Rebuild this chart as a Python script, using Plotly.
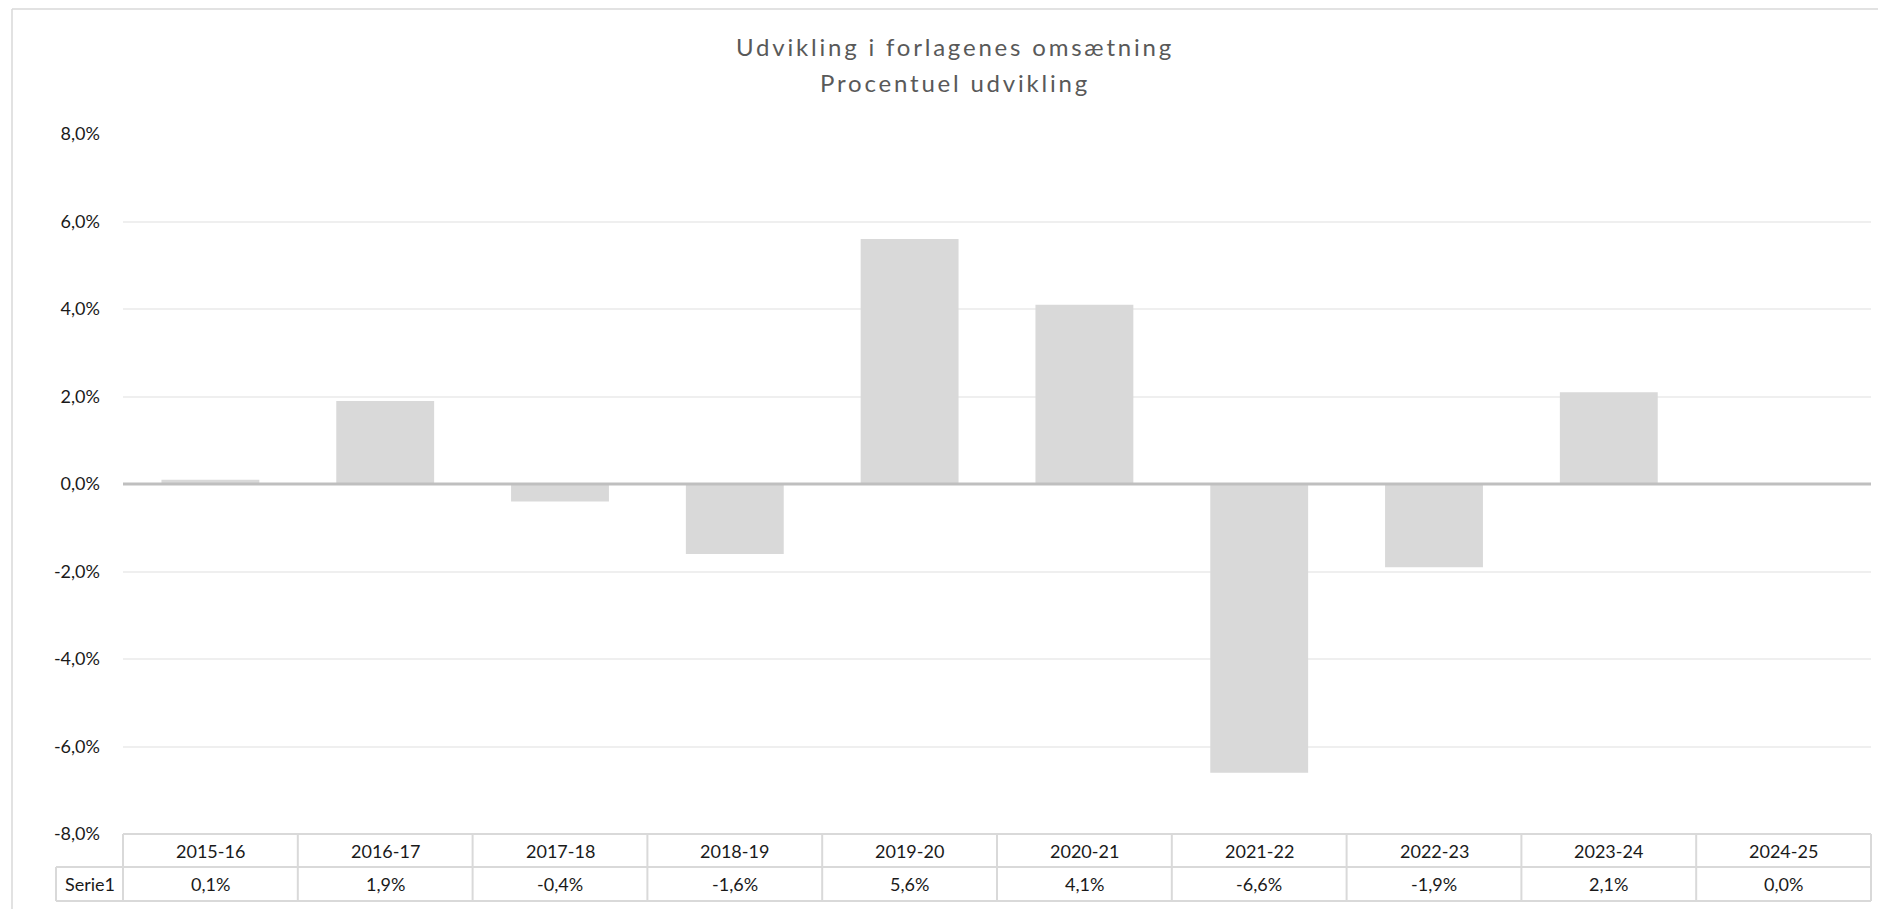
import plotly.graph_objects as go

categories = ["2015-16", "2016-17", "2017-18", "2018-19", "2019-20",
              "2020-21", "2021-22", "2022-23", "2023-24", "2024-25"]
values = [0.1, 1.9, -0.4, -1.6, 5.6, 4.1, -6.6, -1.9, 2.1, 0.0]
series_name = "Serie1"
title_line1 = "Udvikling i forlagenes omsætning"
title_line2 = "Procentuel udvikling"
y_ticks = [-8, -6, -4, -2, 0, 2, 4, 6, 8]


def pct(v):
    return f"{v:.1f}".replace(".", ",") + "%"


y_ticktext = [pct(t) for t in y_ticks]

W, H = 1878, 909
ML, MR, MT, MB = 123, 7, 134, 75
PW, PH = W - ML - MR, H - MT - MB

FONT = "Lato"
TXT = "#1a1a1a"
LINE = "#d9d9d9"


def py(pix):
    """pixel y (from top) -> paper y"""
    return 1 - (pix - MT) / PH


def px(pix):
    return (pix - ML) / PW


fig = go.Figure()
fig.add_trace(go.Bar(
    x=categories, y=values, width=0.56,
    marker=dict(color="#d9d9d9", line=dict(width=0)),
    hoverinfo="x+y", showlegend=False,
))

shapes = []
# zero line
shapes.append(dict(type="line", xref="paper", yref="y", x0=0, x1=1, y0=0, y1=0,
                   line=dict(color="#bfbfbf", width=3), layer="above"))
# outer chart border (top + left visible)
shapes.append(dict(type="line", xref="paper", yref="paper", x0=px(12), x1=px(W + 20),
                   y0=py(9), y1=py(9), line=dict(color=LINE, width=1.5)))
shapes.append(dict(type="line", xref="paper", yref="paper", x0=px(12), x1=px(12),
                   y0=py(9), y1=py(H + 20), line=dict(color=LINE, width=1.5)))

# data table
n = len(categories)
row1_top, row1_bot, row2_bot = py(834), py(867), py(901)
left_cell = px(56)
shapes.append(dict(type="line", xref="paper", yref="paper", x0=0, x1=1,
                   y0=row1_top, y1=row1_top, line=dict(color=LINE, width=2)))
for yy in (row1_bot, row2_bot):
    shapes.append(dict(type="line", xref="paper", yref="paper", x0=left_cell, x1=1,
                       y0=yy, y1=yy, line=dict(color=LINE, width=2)))
for k in range(n + 1):
    xx = k / n
    shapes.append(dict(type="line", xref="paper", yref="paper", x0=xx, x1=xx,
                       y0=row1_top, y1=row2_bot, line=dict(color=LINE, width=2)))
shapes.append(dict(type="line", xref="paper", yref="paper", x0=left_cell, x1=left_cell,
                   y0=row1_bot, y1=row2_bot, line=dict(color=LINE, width=2)))

annotations = []
for c, v in zip(categories, values):
    annotations.append(dict(x=c, xref="x", y=(row1_top + row1_bot) / 2, yref="paper",
                            text=c, showarrow=False, yanchor="middle", xanchor="center",
                            font=dict(family=FONT, size=18, color=TXT)))
    annotations.append(dict(x=c, xref="x", y=(row1_bot + row2_bot) / 2, yref="paper",
                            text=pct(v), showarrow=False,
                            yanchor="middle", xanchor="center",
                            font=dict(family=FONT, size=18, color=TXT)))
annotations.append(dict(x=left_cell / 2, xref="paper", y=(row1_bot + row2_bot) / 2, yref="paper",
                        text=series_name, showarrow=False, yanchor="middle", xanchor="center",
                        font=dict(family=FONT, size=18, color=TXT)))
# titles
SP = '<span style="letter-spacing:2.8px">{}</span>'
annotations.append(dict(x=px(955), xref="paper", y=py(47), yref="paper", text=SP.format(title_line1),
                        showarrow=False, yanchor="middle", xanchor="center",
                        font=dict(family=FONT, size=24, color="#595959")))
annotations.append(dict(x=px(955), xref="paper", y=py(82), yref="paper", text=SP.format(title_line2),
                        showarrow=False, yanchor="middle", xanchor="center",
                        font=dict(family=FONT, size=24, color="#595959")))

fig.update_layout(
    width=W, height=H, autosize=False,
    margin=dict(l=ML, r=MR, t=MT, b=MB, pad=0),
    paper_bgcolor="white", plot_bgcolor="white",
    shapes=shapes, annotations=annotations,
    xaxis=dict(type="category", range=[-0.5, n - 0.5], showticklabels=False,
               showgrid=False, zeroline=False, showline=False, ticks=""),
    yaxis=dict(range=[-8, 8], tickmode="array", tickvals=y_ticks, ticktext=y_ticktext,
               showgrid=True, gridcolor="#efefef", gridwidth=1.5, zeroline=False,
               showline=False, ticks="", ticklabelstandoff=22,
               tickfont=dict(family=FONT, size=18, color=TXT)),
    font=dict(family=FONT),
)

fig.write_html("out.html", config={"displayModeBar": False},
               post_script="document.body.style.margin='0px';document.body.style.overflow='hidden';")
